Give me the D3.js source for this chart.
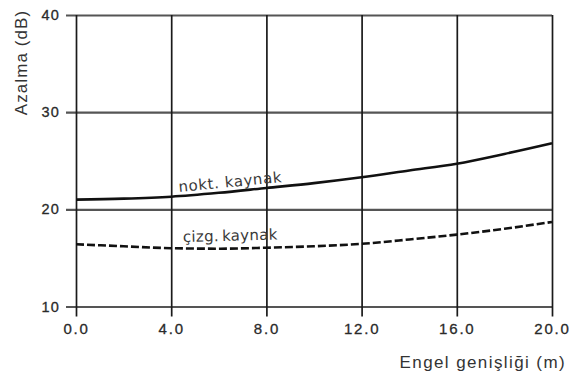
<!DOCTYPE html>
<html>
<head>
<meta charset="utf-8">
<script src="https://cdn.jsdelivr.net/npm/d3@7"></script>
<style>
  html, body { margin: 0; padding: 0; background: #fff; }
  svg { display: block; }
</style>
</head>
<body>
<svg id="chart" width="572" height="374"></svg>
<script>
// Barrier width (m) against attenuation (dB) for point and line sources
const widths = [0, 2, 4, 6, 8, 10, 12, 14, 16, 18, 20];
const pointSource = [21.0, 21.1, 21.3, 21.7, 22.2, 22.7, 23.3, 24.0, 24.7, 25.7, 26.8];
const lineSource = [16.4, 16.2, 16.0, 15.95, 16.05, 16.2, 16.45, 16.9, 17.4, 18.0, 18.7];
const xTicks = [0, 4, 8, 12, 16, 20];
const yTicks = [10, 20, 30, 40];
const xTitle = "Engel genişliği (m)";
const yTitle = "Azalma (dB)";
const pointLabel = "nokt. kaynak";
const lineLabel = "çizg. kaynak";

const svg = d3.select("#chart");
const plotLeft = 76, plotRight = 552, plotTop = 15, plotBottom = 306.5;

const x = d3.scaleLinear().domain([0, 20]).range([plotLeft, plotRight]);
const y = d3.scaleLinear().domain([10, 40]).range([plotBottom, plotTop]);

const sans = "'Liberation Sans', Arial, sans-serif";

// Horizontal grid + y labels
const yAxis = svg.append("g")
  .attr("transform", `translate(${plotLeft},0)`)
  .call(d3.axisLeft(y).tickValues(yTicks).tickSizeInner(-(plotRight - plotLeft)).tickSizeOuter(0).tickPadding(16).tickFormat(d3.format("d")));
yAxis.select(".domain").remove();
yAxis.selectAll(".tick line").attr("x1", -10).attr("stroke", "#555").attr("stroke-width", 2.2);
yAxis.selectAll(".tick text")
  .attr("fill", "#2a2a2a").attr("stroke", "#2a2a2a").attr("stroke-width", 0.3)
  .style("font-family", sans).style("font-size", "14.5px").style("letter-spacing", "1.2px");

// Vertical grid + x labels
const xAxis = svg.append("g")
  .attr("transform", `translate(0,${plotBottom})`)
  .call(d3.axisBottom(x).tickValues(xTicks).tickSizeInner(-(plotBottom - plotTop)).tickSizeOuter(0).tickPadding(17).tickFormat(d3.format(".1f")));
xAxis.select(".domain").remove();
xAxis.selectAll(".tick line").attr("y1", 10).attr("stroke", "#1a1a1a").attr("stroke-width", 1.7);
xAxis.selectAll(".tick text")
  .attr("fill", "#2a2a2a").attr("stroke", "#2a2a2a").attr("stroke-width", 0.3)
  .style("font-family", sans).style("font-size", "15px").style("letter-spacing", "1.8px");

// Curves
const line = d3.line().x(d => x(d[0])).y(d => y(d[1])).curve(d3.curveMonotoneX);

svg.append("path")
  .datum(widths.map((w, i) => [w, pointSource[i]]))
  .attr("d", line).attr("fill", "none")
  .attr("stroke", "#111").attr("stroke-width", 2.6);

svg.append("path")
  .datum(widths.map((w, i) => [w, lineSource[i]]))
  .attr("d", line).attr("fill", "none")
  .attr("stroke", "#111").attr("stroke-width", 2.6)
  .attr("stroke-dasharray", "8,3");

// Curve labels
const labelFont = "'DejaVu Sans', Verdana, sans-serif";
svg.append("text")
  .attr("transform", "translate(179,192) rotate(-5.5)")
  .attr("fill", "#3a3a3a").style("font-family", labelFont)
  .style("font-size", "15px").style("letter-spacing", "0.6px")
  .text(pointLabel);

svg.append("text")
  .attr("transform", "translate(183,242) rotate(-1.5)")
  .attr("fill", "#3a3a3a").style("font-family", labelFont)
  .style("font-size", "15px").style("letter-spacing", "0.3px").style("word-spacing", "-2px")
  .text(lineLabel);

// Axis titles
svg.append("text")
  .attr("x", 566).attr("y", 368).attr("text-anchor", "end")
  .attr("fill", "#333").style("font-family", sans)
  .style("font-size", "17px").style("letter-spacing", "1.4px")
  .text(xTitle);

svg.append("text")
  .attr("transform", "translate(27,62.5) rotate(-90)")
  .attr("text-anchor", "middle")
  .attr("fill", "#333").style("font-family", sans)
  .style("font-size", "17px").style("letter-spacing", "1.1px")
  .text(yTitle);
</script>
</body>
</html>
